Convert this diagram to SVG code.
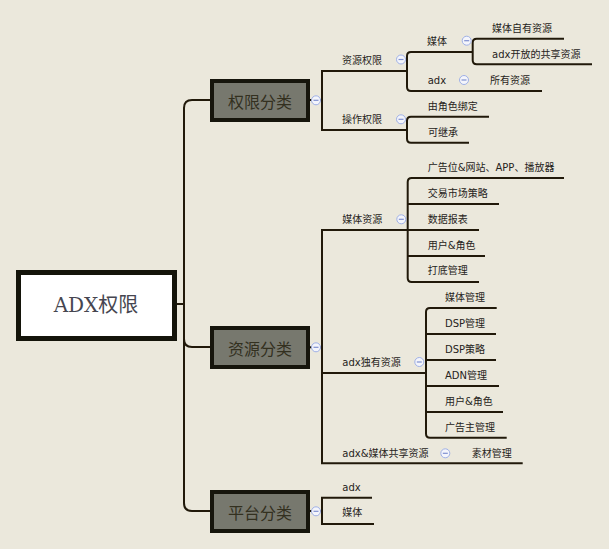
<svg xmlns="http://www.w3.org/2000/svg" width="609" height="549" viewBox="0 0 609 549">
<style>
.ln{fill:none;stroke:#21190a;stroke-width:2}
.t{font-family:"DejaVu Sans","Noto Sans CJK SC",sans-serif;font-size:10px;fill:#262320;dominant-baseline:central}
.cat rect{fill:#77786e;stroke:#16150c;stroke-width:4}
.cat text{font-family:"Noto Sans CJK SC",sans-serif;font-size:16px;fill:#33301f;text-anchor:middle;dominant-baseline:central}
.ic circle{fill:#f4f5fb;stroke:#9fb0e6;stroke-width:1}
.ic line{stroke:#7f90d0;stroke-width:1.2}
</style>
<defs>
<g id="icon" class="ic"><circle r="4.5"/><line x1="-2.5" y1="0" x2="2.5" y2="0"/></g>
</defs>
<rect width="609" height="549" fill="#ebe8dc"/>
<g id="connectors">
<path class="ln" d="M177,304 H184"/>
<path class="ln" d="M210,100 H192 Q184,100 184,108 V503 Q184,511 192,511 H210"/>
<path class="ln" d="M184,339 Q184,347 192,347 H210"/>
<path class="ln" d="M310,100 H322"/>
<path class="ln" d="M407,71 H322 V130 H407"/>
<path class="ln" d="M473,52 H411 Q407,52 407,56 V87 Q407,91 411,91 H542"/>
<path class="ln" d="M564,38.7 H476.7 Q472.7,38.7 472.7,42.7 V60.3 Q472.7,64.3 476.7,64.3 H592"/>
<path class="ln" d="M489,116.7 H411 Q407,116.7 407,120.7 V138.7 Q407,142.7 411,142.7 H469"/>
<path class="ln" d="M310,347.3 H322"/>
<path class="ln" d="M479,230 H322 V463.3 H522.7"/>
<path class="ln" d="M322,373 H426"/>
<path class="ln" d="M564,178 H411.7 Q407.7,178 407.7,182 V278 Q407.7,282 411.7,282 H479"/>
<path class="ln" d="M407.7,204 H499 M407.7,256 H485"/>
<path class="ln" d="M496.7,308 H430 Q426,308 426,312 V433.7 Q426,437.7 430,437.7 H506.7"/>
<path class="ln" d="M426,334 H496 M426,360 H496 M426,386 H499 M426,412 H503"/>
<path class="ln" d="M310,511 H322"/>
<path class="ln" d="M372,497.7 H322 V524 H374"/>
</g>
<g id="root">
<rect x="18.5" y="272.5" width="156" height="66" fill="#ffffff" stroke="#14140a" stroke-width="5"/>
<text x="96" y="305" font-family="DejaVu Serif,'Noto Sans CJK SC',serif" font-size="20" fill="#464650" text-anchor="middle" dominant-baseline="central">ADX权限</text>
</g>
<g id="n-quanxian" class="cat"><rect x="212" y="81" width="96" height="39"/><text x="260" y="100.5">权限分类</text></g>
<g id="n-ziyuan" class="cat"><rect x="212" y="328" width="96" height="39"/><text x="260" y="347.5">资源分类</text></g>
<g id="n-pingtai" class="cat"><rect x="212" y="492" width="96" height="39"/><text x="260" y="511.5">平台分类</text></g>
<g id="n-zyqx"><text class="t" x="342" y="60">资源权限</text></g>
<g id="n-czqx"><text class="t" x="342" y="119.3">操作权限</text></g>
<g id="n-mt1"><text class="t" x="427" y="41.7">媒体</text></g>
<g id="n-adx1"><text class="t" x="427.7" y="80">adx</text></g>
<g id="n-syzy"><text class="t" x="490" y="80">所有资源</text></g>
<g id="n-mtzy"><text class="t" x="492" y="28.3">媒体自有资源</text></g>
<g id="n-adxkf"><text class="t" x="492" y="54">adx开放的共享资源</text></g>
<g id="n-jsbd"><text class="t" x="427.7" y="106.7">由角色绑定</text></g>
<g id="n-kjc"><text class="t" x="428" y="132.3">可继承</text></g>
<g id="n-mtzy2"><text class="t" x="342.3" y="219.3">媒体资源</text></g>
<g id="n-ggw"><text class="t" x="427.7" y="167.3">广告位&amp;网站、APP、播放器</text></g>
<g id="n-jysc"><text class="t" x="427.7" y="193.3">交易市场策略</text></g>
<g id="n-sjbb"><text class="t" x="427.7" y="219.3">数据报表</text></g>
<g id="n-yhjs1"><text class="t" x="427.7" y="245.3">用户&amp;角色</text></g>
<g id="n-ddgl"><text class="t" x="427.7" y="270.7">打底管理</text></g>
<g id="n-adxdy"><text class="t" x="342.3" y="362">adx独有资源</text></g>
<g id="n-mtgl"><text class="t" x="445" y="297.3">媒体管理</text></g>
<g id="n-dspgl"><text class="t" x="445" y="323.3">DSP管理</text></g>
<g id="n-dspcl"><text class="t" x="445" y="349.3">DSP策略</text></g>
<g id="n-adngl"><text class="t" x="445" y="375.3">ADN管理</text></g>
<g id="n-yhjs2"><text class="t" x="445" y="401.3">用户&amp;角色</text></g>
<g id="n-ggzgl"><text class="t" x="445" y="427.3">广告主管理</text></g>
<g id="n-gxzy"><text class="t" x="342.3" y="453.3">adx&amp;媒体共享资源</text></g>
<g id="n-scgl"><text class="t" x="471.7" y="453.3">素材管理</text></g>
<g id="n-adx2"><text class="t" x="342.3" y="487.3">adx</text></g>
<g id="n-mt2"><text class="t" x="342.3" y="512.7">媒体</text></g>
<g id="icons">
<use href="#icon" x="316" y="100.3"/>
<use href="#icon" x="401" y="59.5"/>
<use href="#icon" x="466.7" y="40.7"/>
<use href="#icon" x="464" y="80"/>
<use href="#icon" x="401" y="119.3"/>
<use href="#icon" x="316" y="347.3"/>
<use href="#icon" x="401.3" y="219.3"/>
<use href="#icon" x="419.3" y="362"/>
<use href="#icon" x="445.3" y="453.3"/>
<use href="#icon" x="316" y="511.3"/>
</g>
</svg>
